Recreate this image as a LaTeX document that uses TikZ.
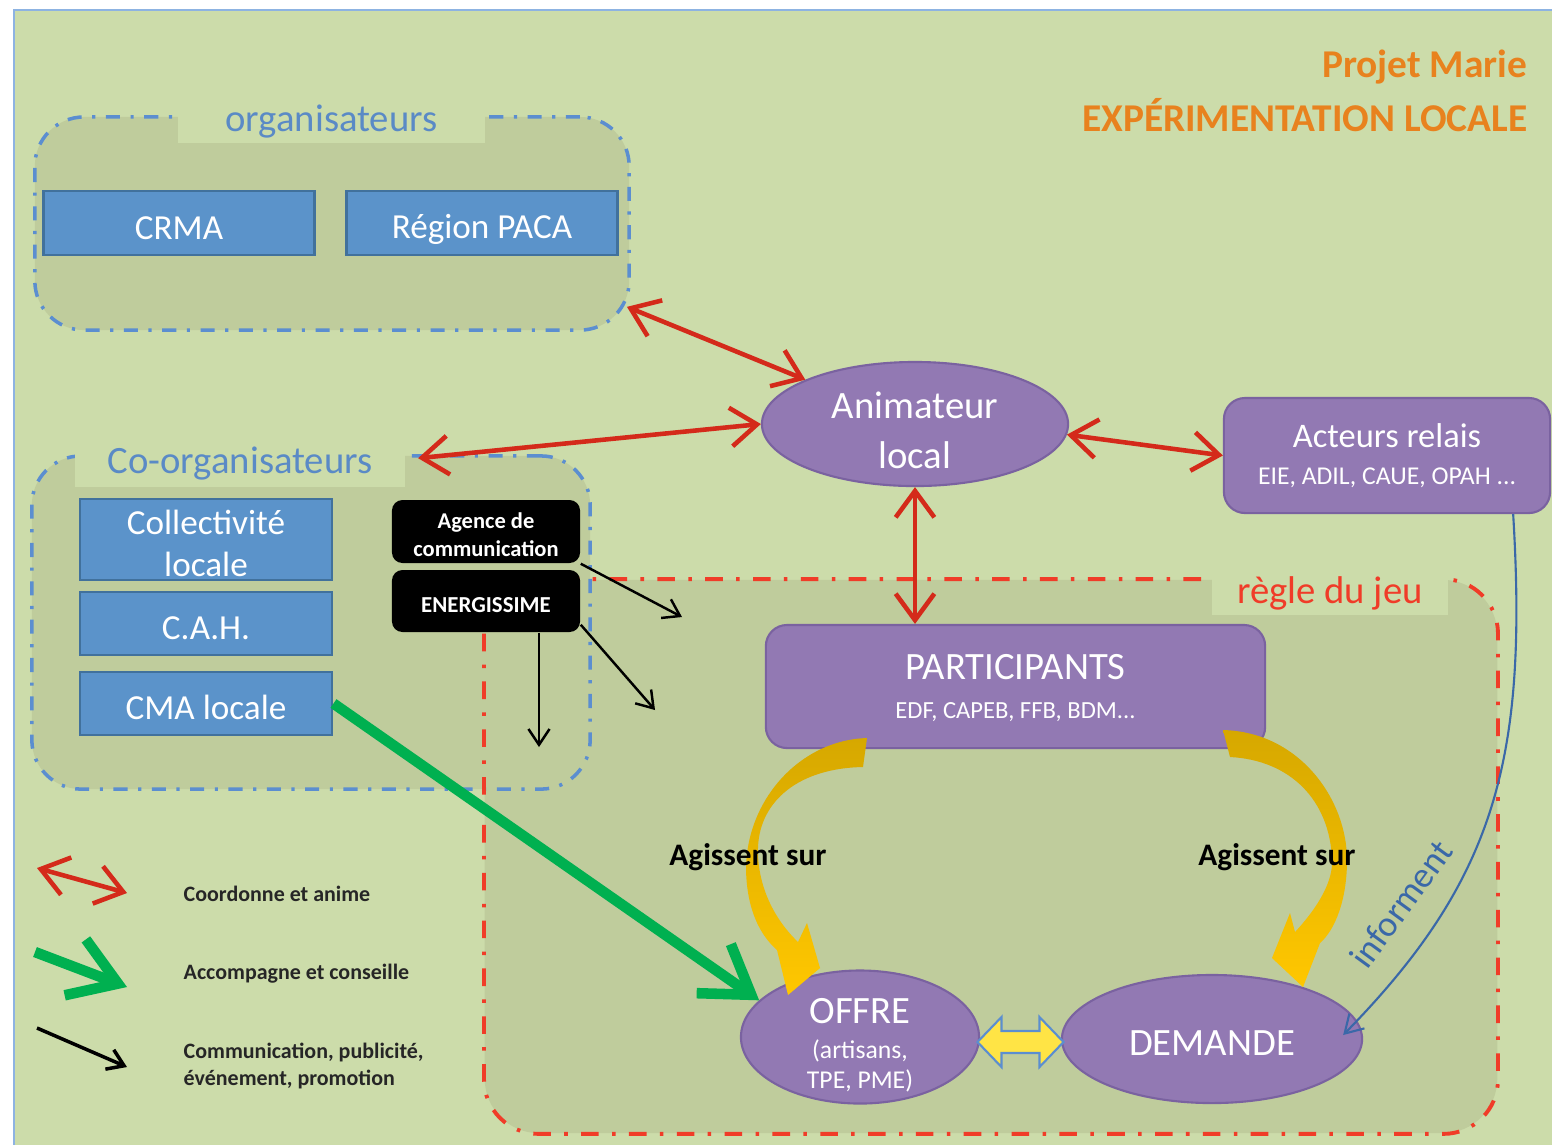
\documentclass[tikz,border=0pt]{standalone}
\usepackage{fontspec}
\setmainfont{Carlito}
\usetikzlibrary{arrows.meta,shapes.geometric,calc}
\definecolor{bg}{HTML}{CCDCAA}
\definecolor{grpfill}{HTML}{BFCC9C}
\definecolor{boxblue}{HTML}{5B93CA}
\definecolor{boxblueline}{HTML}{41719C}
\definecolor{purp}{HTML}{9279B3}
\definecolor{purpline}{HTML}{7A62A0}
\definecolor{orangeT}{HTML}{E8821E}
\definecolor{redarr}{HTML}{D42A1A}
\definecolor{reddash}{HTML}{F03C28}
\definecolor{bluedash}{HTML}{5B8ED0}
\definecolor{titleblue}{HTML}{5A8AC6}
\definecolor{greenarr}{HTML}{00B050}
\definecolor{infoblue}{HTML}{3A68A8}
\definecolor{frameblue}{HTML}{8DB3E2}
\definecolor{yel}{HTML}{FFC700}
\definecolor{yeldark}{HTML}{D6A800}
\definecolor{yel2}{HTML}{FFE445}
\definecolor{legtext}{HTML}{262626}
\newcommand\lowr[2]{\raisebox{-#1}[\height][\depth]{#2}}
\begin{document}
\begin{tikzpicture}[x=0.01cm,y=-0.01cm,
  grp/.style={rectangle, rounded corners=14pt, fill=grpfill, inner sep=0pt},
  bdash/.style={draw=bluedash, line width=1pt, dash pattern=on 4pt off 3pt on 0.9pt off 3pt},
  rdash/.style={draw=reddash, line width=1.1pt, dash pattern=on 5pt off 3.8pt on 1pt off 3.8pt},
  titlepatch/.style={fill=bg, inner sep=0pt, font=\fontsize{11}{13}\selectfont},
  bluebox/.style={rectangle, draw=boxblueline, line width=0.8pt, fill=boxblue, text=white, inner sep=0pt, align=center, font=\fontsize{10}{12.2}\selectfont},
  purpbox/.style={rectangle, rounded corners=6pt, draw=purpline, line width=0.6pt, fill=purp, text=white, inner sep=0pt, align=center},
  purpell/.style={ellipse, draw=purpline, line width=0.6pt, fill=purp, text=white, inner sep=0pt, align=center},
  blackbox/.style={rectangle, rounded corners=3pt, fill=black, text=white, inner sep=0pt, align=center},
  redarrow/.style={draw=redarr, line width=1.3pt, {Straight Barb[length=7.5pt,width=11pt]}-{Straight Barb[length=7.5pt,width=11pt]}},
  greenarrow/.style={draw=greenarr, line width=3pt, -{Straight Barb[length=13pt,width=17pt]}},
  blackarrow/.style={draw=black, line width=0.7pt, -{Straight Barb[length=4.5pt,width=6pt]}},
  legtxt/.style={anchor=west, text=legtext, inner sep=0pt, align=left, font=\bfseries\fontsize{6.25}{7.7}\selectfont},
  agit/.style={text=black, inner sep=0pt, font=\bfseries\fontsize{8.9}{10}\selectfont}
]
\useasboundingbox (0,0) rectangle (1552,1144);
% background frame
\fill[white] (0,0) rectangle (1552,1144);
\fill[bg] (14,10) rectangle (1560,1150);
\draw[frameblue, line width=0.8pt] (1560,10) -- (14,10) -- (14,1150);

% title
\node[anchor=east, text=orangeT, inner sep=0pt, font=\bfseries\fontsize{11.2}{12}\selectfont] (t1) at (1528,67) {Projet Marie};
\node[anchor=east, text=orangeT, inner sep=0pt, font=\bfseries\fontsize{11.2}{12}\selectfont] (t2) at (1528,115) {EXPÉRIMENTATION LOCALE};

% groups: fills then borders
\node[grp, rounded corners=15.5pt, minimum width=10.12cm, minimum height=5.53cm] (regle) at (991,856.5) {};
\node[grp, minimum width=5.58cm, minimum height=3.33cm, bdash] (co) at (311,622.5) {};
\draw[rdash, rounded corners=15.5pt] (regle.north west) rectangle (regle.south east);
\node[grp, minimum width=5.94cm, minimum height=2.13cm, bdash] (org) at (332,223.5) {};

% title patches
\node[titlepatch, minimum width=3.07cm, minimum height=0.43cm, text=titleblue] (orgt) at (331.5,121.5) {organisateurs};
\node[titlepatch, minimum width=3.30cm, minimum height=0.47cm, text=titleblue] (cot) at (240,463.5) {Co-organisateurs};
\node[titlepatch, minimum width=2.36cm, minimum height=0.43cm, text=reddash] (reglet) at (1330,593.5) {règle du jeu};

% blue boxes
\node[bluebox, minimum width=2.71cm, minimum height=0.64cm] (crma) at (179,223) {\lowr{1.5pt}{CRMA}};
\node[bluebox, minimum width=2.71cm, minimum height=0.64cm] (paca) at (482,223) {\lowr{1.8pt}{Région PACA}};
\node[bluebox, minimum width=2.52cm, minimum height=0.81cm] (coll) at (206,539.5) {\lowr{1.1pt}{Collectivité}\\\lowr{1.1pt}{locale}};
\node[bluebox, minimum width=2.52cm, minimum height=0.63cm] (cah) at (206,623.5) {\lowr{1.4pt}{C.A.H.}};
\node[bluebox, minimum width=2.52cm, minimum height=0.63cm] (cma) at (206,703.5) {\lowr{1.1pt}{CMA locale}};

% black boxes
\node[blackbox, minimum width=1.88cm, minimum height=0.63cm, font=\bfseries\fontsize{6.4}{7.7}\selectfont] (ag) at (486,531.5) {\lowr{0.9pt}{Agence de}\\\lowr{0.9pt}{communication}};
\node[blackbox, minimum width=1.88cm, minimum height=0.62cm, font=\bfseries\fontsize{6.5}{7.5}\selectfont] (en) at (486,601) {\lowr{1.1pt}{ENERGISSIME}};

% purple nodes
\node[purpell, minimum width=3.06cm, minimum height=1.24cm, font=\fontsize{11}{14.2}\selectfont] (an) at (915,424) {\lowr{1.7pt}{Animateur}\\\lowr{1.7pt}{local}};
\node[purpbox, minimum width=3.26cm, minimum height=1.15cm] (ac) at (1387,455.5) {\fontsize{9.8}{10}\selectfont Acteurs relais\\[-1.5pt]\fontsize{7.3}{10}\selectfont EIE, ADIL, CAUE, OPAH ...};
\node[purpbox, minimum width=4.99cm, minimum height=1.23cm] (pa) at (1015.5,686.5) {\fontsize{11}{12.2}\selectfont \lowr{1pt}{PARTICIPANTS}\\\fontsize{7}{12.2}\selectfont EDF, CAPEB, FFB, BDM...};
\node[purpell, minimum width=2.38cm, minimum height=1.26cm] (of) at (860,1037) {\fontsize{11}{11.4}\selectfont \lowr{2.3pt}{OFFRE}\\[-2pt]\fontsize{7.3}{10.5}\selectfont \lowr{2.3pt}{(artisans,}\\[-3.4pt]\fontsize{7.3}{8.5}\selectfont \lowr{2.3pt}{TPE, PME)}};
\node[purpell, minimum width=3.00cm, minimum height=1.28cm, font=\fontsize{11}{13}\selectfont] (de) at (1212,1039) {\lowr{1.1pt}{DEMANDE}};

% yellow curved arrows
\path[shade, top color=yeldark, middle color=yel, bottom color=yel]
  (867,738) .. controls (800,740) and (746,800) .. (746,870)
  .. controls (747,910) and (760,935) .. (777,950)
  -- (788,995) -- (820,968) -- (807,923) -- (798,942)
  .. controls (770,915) and (757,880) .. (758,847)
  .. controls (760,800) and (800,768) .. (863,767) -- cycle;
\path[shade, top color=yeldark, middle color=yel, bottom color=yel]
  (1223,730) .. controls (1300,732) and (1347,800) .. (1347,860)
  .. controls (1347,900) and (1335,930) .. (1320,943)
  -- (1303,987) -- (1272,958) -- (1290,913) -- (1295,932)
  .. controls (1320,905) and (1333,880) .. (1332,860)
  .. controls (1330,800) and (1290,760) .. (1230,757) -- cycle;
\node[agit] (ag1) at (748,857) {Agissent sur};
\node[agit] (ag2) at (1277,857) {Agissent sur};

% yellow double arrow between OFFRE and DEMANDE
\coordinate (mid) at ($(of.east)!0.5!(de.west)$);
\draw[fill=yel2, draw=bluedash, line width=0.6pt] ($(mid)+(-43,4)$) -- ++(24,-25) -- ++(0,14) -- ++(38,0) -- ++(0,-14) -- ++(24,25) -- ++(-24,25) -- ++(0,-14) -- ++(-38,0) -- ++(0,14) -- cycle;

% red arrows
\draw[redarrow] ($(org.south east)+(-4,-25)$) -- (an.158);
\draw[redarrow] ($(co.north west)+(388,4)$) -- (an.west);
\draw[redarrow] (an.-4) -- (ac.west);
\draw[redarrow] (an.south) -- (an.south |- pa.north);

% black arrows
\coordinate (c1) at (682,617);
\coordinate (c2) at (655,710);
\coordinate (c3) at (539,747);
\draw[blackarrow] (ag.south east) -- (c1);
\draw[blackarrow] ($(en.south east)+(0,-8)$) -- (c2);
\draw[blackarrow] ($(en.south)+(53,0)$) -- (c3);

% green arrow
\draw[greenarrow] (cma.east) -- (of.160);

% informent
\draw[infoblue, line width=0.6pt, -{Straight Barb[length=5pt,width=6pt]}] ($(ac.south east)+(-38,0)$) .. controls (1528,760) and (1495,880) .. ($(de.east)+(-20,-4)$);
\node[text=infoblue, rotate=54, inner sep=0pt, font=\fontsize{10.3}{12}\selectfont] (inf) at (1401,904) {informent};

% legend
\coordinate (l1a) at (37,868); \coordinate (l1b) at (127,893);
\draw[redarrow] (l1a) -- (l1b);
\coordinate (l2a) at (35,952); \coordinate (l2b) at (127,987);
\draw[greenarrow] (l2a) -- (l2b);
\coordinate (l3a) at (37,1028); \coordinate (l3b) at (127,1067);
\draw[blackarrow, line width=1pt] (l3a) -- (l3b);
\node[legtxt] (lt1) at (183,894) {Coordonne et anime};
\node[legtxt] (lt2) at (183,974) {Accompagne et conseille};
\node[legtxt] (lt3) at (183,1066) {Communication, publicité,\\événement, promotion};
\end{tikzpicture}
\end{document}
